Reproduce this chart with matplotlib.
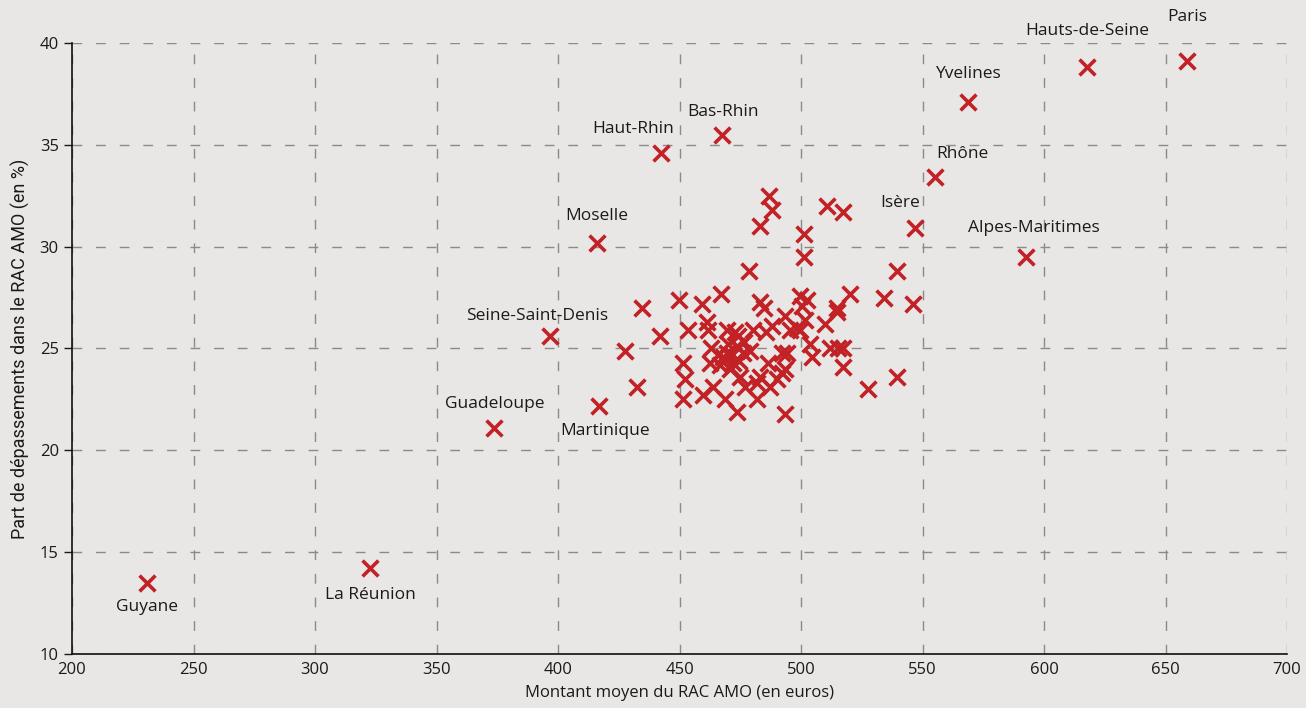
import matplotlib
matplotlib.use("Agg")
import matplotlib.pyplot as plt

plt.rcParams['font.family'] = ['Open Sans', 'DejaVu Sans']

# Labelled departments
lab_names = ["Guyane", "La Réunion", "Guadeloupe", "Martinique", "Seine-Saint-Denis",
             "Moselle", "Haut-Rhin", "Bas-Rhin", "Isère", "Rhône", "Yvelines",
             "Alpes-Maritimes", "Hauts-de-Seine", "Paris"]
lab_x = [230.9, 322.6, 373.7, 416.9, 396.7, 416.0, 442.4, 467.5, 546.9, 555.1, 568.7,
         592.6, 617.7, 658.8]
lab_y = [13.5, 14.2, 21.1, 22.2, 25.6, 30.2, 34.6, 35.5, 30.9, 33.4, 37.1, 29.5, 38.8, 39.1]

# Other departments
oth_x = [486.8, 488.1, 483.1, 510.7, 517.3, 501.2, 501.2, 478.6, 539.5, 467.1, 449.8,
         459.3, 434.6, 483.1, 484.8, 499.6, 502.5, 520.2, 514.8, 514.8, 534.2, 546.1,
         527.6, 539.5, 442.0, 427.6, 432.5, 453.5, 461.3, 461.7, 469.5, 472.8, 480.2,
         488.1, 493.4, 495.5, 499.6, 501.6, 509.9, 451.4, 452.3, 451.4, 462.6, 465.8,
         467.9, 469.5, 471.6, 473.7, 476.1, 479.0, 474.1, 470.8, 474.9, 459.7, 463.8,
         468.7, 473.7, 477.0, 481.9, 483.1, 486.4, 487.2, 490.1, 492.2, 493.4, 492.2,
         494.2, 493.4, 503.7, 504.5, 511.9, 515.2, 517.3, 517.3, 466.5, 470.0, 472.0,
         474.5, 476.5, 485.5, 463.0, 482.0, 500.5, 498.5]
oth_y = [32.5, 31.8, 31.0, 32.0, 31.7, 30.6, 29.5, 28.8, 28.8, 27.7, 27.4,
         27.2, 27.0, 27.3, 27.0, 27.6, 27.4, 27.7, 27.0, 26.8, 27.5, 27.2,
         23.0, 23.6, 25.6, 24.9, 23.1, 25.9, 26.3, 25.9, 25.9, 25.8, 25.9,
         26.1, 26.6, 25.9, 25.9, 26.4, 26.2, 24.3, 23.5, 22.5, 24.3, 24.7,
         24.6, 24.8, 24.7, 25.1, 24.8, 24.9, 25.6, 24.0, 23.6, 22.7, 23.1,
         22.5, 21.9, 23.1, 22.5, 23.6, 24.3, 23.1, 23.5, 23.8, 24.0, 24.8,
         24.8, 21.8, 25.2, 24.6, 25.0, 25.0, 25.0, 24.1, 24.2, 25.2, 24.3,
         24.4, 25.3, 25.8, 25.0, 23.3, 27.1, 26.0]

# label offsets in pixels (dx, dy)
lab_off = {
    "Guyane": (0, -24), "La Réunion": (0, -27), "Guadeloupe": (1, 24),
    "Martinique": (6, -25), "Seine-Saint-Denis": (-13, 20), "Moselle": (0, 27),
    "Haut-Rhin": (-28, 24), "Bas-Rhin": (1, 23), "Isère": (-15, 25),
    "Rhône": (27, 23), "Yvelines": (0, 28), "Alpes-Maritimes": (8, 29),
    "Hauts-de-Seine": (0, 36), "Paris": (0, 44),
}

bg = "#E9E7E5"
red = "#C22126"

fig = plt.figure(figsize=(13.06, 7.08), dpi=100, facecolor=bg)
ax = fig.add_axes([72/1306, 1-654/708, (1287-72)/1306, (654-43)/708])
ax.set_facecolor(bg)

ax.scatter(oth_x, oth_y, marker='x', s=130, linewidths=2.6, color=red, zorder=3)
ax.scatter(lab_x, lab_y, marker='x', s=130, linewidths=2.6, color=red, zorder=3)

for n, x, y in zip(lab_names, lab_x, lab_y):
    dx, dy = lab_off[n]
    ax.annotate(n, (x, y), xytext=(dx, dy), textcoords='offset pixels',
                ha='center', va='center', fontsize=12.5, color='#1a1a1a')

ax.set_xlim(200, 700)
ax.set_ylim(10, 40)
ax.set_xticks(range(200, 701, 50))
ax.set_yticks(range(10, 41, 5))
ax.grid(True, linestyle=(0, (7, 10)), color='#8a8a8a', linewidth=1.0)
ax.set_axisbelow(True)
for s in ['top', 'right']:
    ax.spines[s].set_visible(False)
for s in ['left', 'bottom']:
    ax.spines[s].set_color('#111111')
    ax.spines[s].set_linewidth(1.2)
ax.tick_params(axis='both', labelsize=12, colors='#1a1a1a', length=6, width=1)
ax.tick_params(axis='x', length=0, pad=6)

ax.set_xlabel("Montant moyen du RAC AMO (en euros)", fontsize=12, color='#1a1a1a', labelpad=5)
ax.set_ylabel("Part de dépassements dans le RAC AMO (en %)", fontsize=13, color='#1a1a1a',
              family=['Roboto', 'DejaVu Sans'], labelpad=7)

fig.savefig("out.png", dpi=100, facecolor=bg)
